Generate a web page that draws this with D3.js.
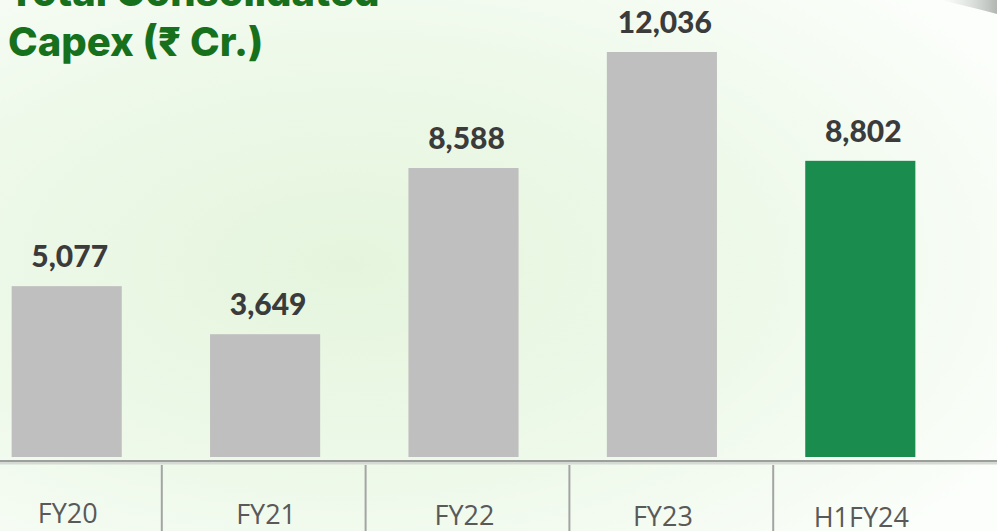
<!DOCTYPE html>
<html>
<head>
<meta charset="utf-8">
<script src="https://cdn.jsdelivr.net/npm/d3@7"></script>
<style>
  html, body { margin: 0; padding: 0; overflow: hidden; background: #f7fcf5; }
  #chart { width: 997px; height: 531px; }
</style>
</head>
<body>
<div id="chart"></div>
<script>
// chart data
const categories = ['FY20', 'FY21', 'FY22', 'FY23', 'H1FY24'];
const capex = [5077, 3649, 8588, 12036, 8802];
const titleLines = ['Total Consolidated', 'Capex (₹ Cr.)'];

const width = 997;
const height = 531;
const baseY = 457;

const svg = d3.select('#chart')
    .append('svg')
    .attr('width', width)
    .attr('height', height);

// soft green background
const defs = svg.append('defs');
const bg = defs.append('radialGradient')
    .attr('id', 'bg')
    .attr('cx', '0.35').attr('cy', '0.5').attr('r', '0.75');
bg.append('stop').attr('offset', '0%').attr('stop-color', '#e5f5dd');
bg.append('stop').attr('offset', '55%').attr('stop-color', '#eef9ea');
bg.append('stop').attr('offset', '100%').attr('stop-color', '#fbfefa');

svg.append('rect')
    .attr('width', width)
    .attr('height', height)
    .attr('fill', 'url(#bg)');

// grey swoosh in the top right corner
const sw = defs.append('linearGradient')
    .attr('id', 'swoosh')
    .attr('x1', '0').attr('y1', '0').attr('x2', '1').attr('y2', '0');
sw.append('stop').attr('offset', '0%').attr('stop-color', '#d8dcd8').attr('stop-opacity', 0);
sw.append('stop').attr('offset', '100%').attr('stop-color', '#a9aeaa').attr('stop-opacity', 0.9);
svg.append('path')
    .attr('d', 'M940,0 Q975,8 997,14 L997,0 Z')
    .attr('fill', 'url(#swoosh)');

// scales
const x = d3.scaleBand()
    .domain(categories)
    .range([-32, 959])
    .paddingInner(0.445)
    .paddingOuter(0.22);

const y = d3.scaleLinear()
    .domain([0, d3.max(capex)])
    .range([baseY, 52]);

// table columns under the axis
const col = d3.scaleBand()
    .domain(categories)
    .range([-42, 977]);

// bars
svg.selectAll('rect.bar')
    .data(capex)
    .enter().append('rect')
    .attr('class', 'bar')
    .attr('x', (d, i) => x(categories[i]))
    .attr('y', d => y(d))
    .attr('width', x.bandwidth())
    .attr('height', d => baseY - y(d))
    .attr('fill', (d, i) => categories[i] === 'H1FY24' ? '#1a8c4e' : '#bfbfbf');

// value labels
svg.selectAll('text.value')
    .data(capex)
    .enter().append('text')
    .attr('class', 'value')
    .attr('x', (d, i) => x(categories[i]) + x.bandwidth() / 2 + 3)
    .attr('y', d => y(d) - 19)
    .attr('text-anchor', 'middle')
    .style('font-family', 'Lato, sans-serif')
    .style('font-weight', '900')
    .style('font-size', '30px')
    .attr('fill', '#3b3b3b')
    .text(d => d3.format(',')(d));

// axis line with soft shadow
svg.append('line')
    .attr('x1', 0).attr('x2', width)
    .attr('y1', baseY + 6).attr('y2', baseY + 6)
    .attr('stroke', '#d6dad4')
    .attr('stroke-width', 3);
svg.append('line')
    .attr('x1', 0).attr('x2', width)
    .attr('y1', baseY + 4).attr('y2', baseY + 4)
    .attr('stroke', '#9d9f9c')
    .attr('stroke-width', 2);

// column separators
svg.selectAll('line.sep')
    .data(categories.slice(1))
    .enter().append('line')
    .attr('class', 'sep')
    .attr('x1', d => col(d))
    .attr('x2', d => col(d))
    .attr('y1', baseY + 8)
    .attr('y2', height)
    .attr('stroke', '#a3a5a3')
    .attr('stroke-width', 2);

// category labels
svg.selectAll('text.cat')
    .data(categories)
    .enter().append('text')
    .attr('class', 'cat')
    .attr('x', d => x(d) + x.bandwidth() / 2 + 1)
    .attr('y', (d, i) => 523 + i * 1.1)
    .attr('text-anchor', 'middle')
    .style('font-family', '"Open Sans", sans-serif')
    .style('font-size', '27px')
    .attr('fill', '#595959')
    .text(d => d);

// title
svg.selectAll('text.title')
    .data(titleLines)
    .enter().append('text')
    .attr('class', 'title')
    .attr('x', 8)
    .attr('y', (d, i) => 6 + i * 50)
    .style('font-family', 'Inter, sans-serif')
    .style('font-weight', '800')
    .style('font-size', '40px')
    .attr('fill', '#17701c')
    .text(d => d);
</script>
</body>
</html>
